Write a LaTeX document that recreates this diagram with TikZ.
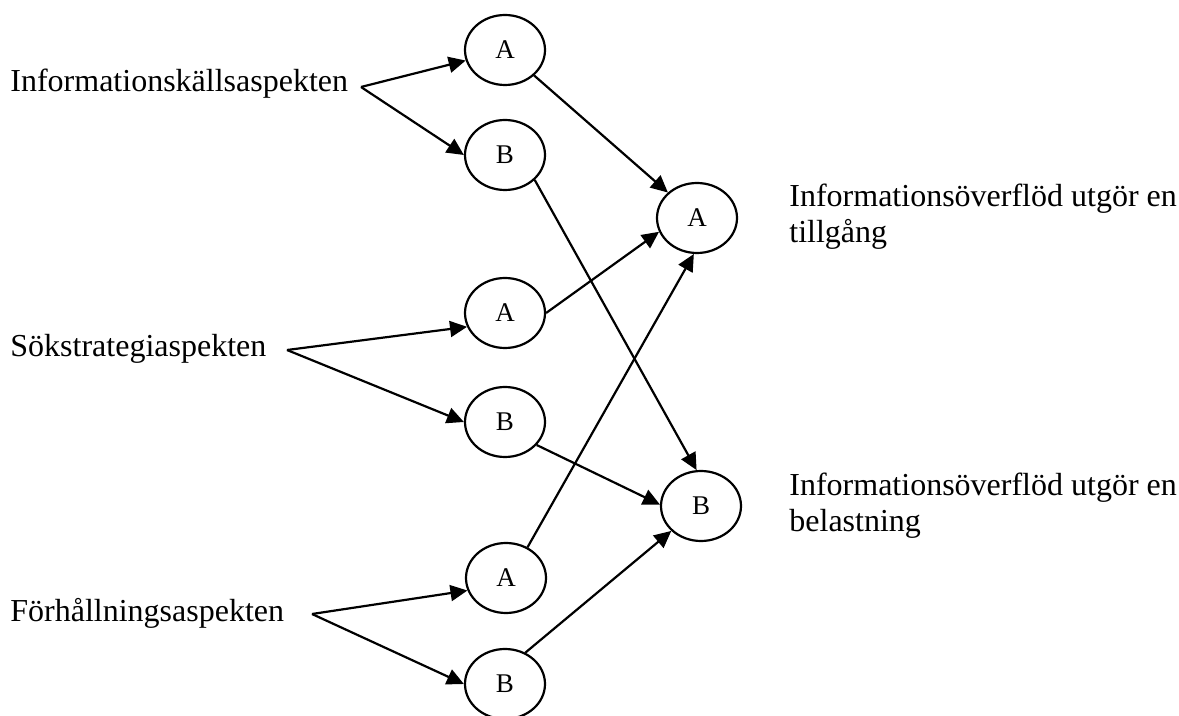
\documentclass[tikz,border=0pt]{standalone}
\usepackage{fontspec}
\setmainfont{Liberation Serif}
\usetikzlibrary{shapes.geometric,arrows.meta}

\begin{document}
\begin{tikzpicture}[x=0.5pt,y=-0.5pt,
  aspect/.style={ellipse,draw,line width=1.1pt,minimum width=40pt,minimum height=35pt,inner sep=0pt,font=\fontsize{13.5}{15}\selectfont},
  lbl/.style={anchor=base west,inner sep=0pt,font=\fontsize{16}{18}\selectfont},
  pil/.style={line width=1.1pt,-{Triangle[length=8.5pt,width=8pt]}}]
\useasboundingbox (0,0) rectangle (1179,716);
\node[aspect] (A1) at (505,50) {A};
\node[aspect] (B1) at (505,155) {B};
\node[aspect] (A2) at (505,313) {A};
\node[aspect] (B2) at (505,422) {B};
\node[aspect] (A3) at (506,578) {A};
\node[aspect] (B3) at (505,684) {B};
\node[aspect] (RA) at (697,218) {A};
\node[aspect] (RB) at (701,506) {B};
\node[lbl] (k1) at (10,92) {Informationskällsaspekten};
\node[lbl] (k2) at (10,357) {Sökstrategiaspekten};
\node[lbl] (k3) at (10,622) {Förhållningsaspekten};
\node[lbl] (ta1) at (789,207) {Informationsöverflöd utgör en};
\node[lbl] (ta2) at (789,243) {tillgång};
\node[lbl] (tb1) at (789,496) {Informationsöverflöd utgör en};
\node[lbl] (tb2) at (789,532) {belastning};
\coordinate (s1) at (361,87);
\coordinate (s2) at (287,350);
\coordinate (s3) at (312,614);
\draw[pil] (s1) -- (A1.195);
\draw[pil] (s1) -- (B1.west);
\draw[pil] (s2) -- (A2.200);
\draw[pil] (s2) -- (B2.west);
\draw[pil] (s3) -- (A3.198);
\draw[pil] (s3) -- (B3.west);
\draw[pil] (A1) -- (RA);
\draw[pil] (A2.east) -- (RA.200);
\draw[pil] (A3.55) -- (RA.265);
\draw[pil] (B1.320) -- (RB.97);
\draw[pil] (B2.324) -- (RB.178);
\draw[pil] (B3.57) -- (RB.220);
\end{tikzpicture}
\end{document}
